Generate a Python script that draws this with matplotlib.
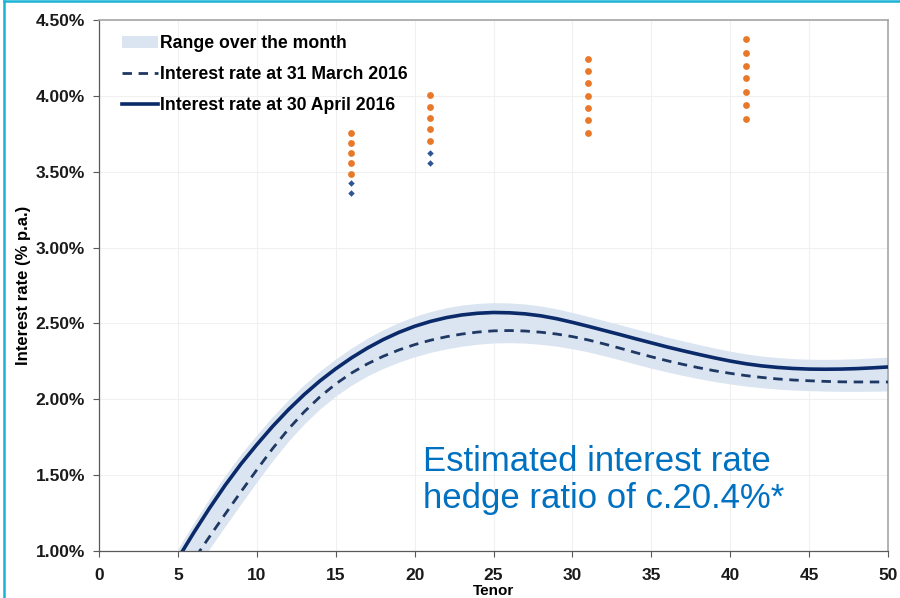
import matplotlib
matplotlib.use("Agg")
import matplotlib.pyplot as plt
from matplotlib.patches import Patch
from matplotlib.lines import Line2D

plt.rcParams['font.family'] = ['Liberation Sans', 'DejaVu Sans']

tenor = list(range(5, 51))
rate_april = [0.95, 1.12, 1.282, 1.434, 1.574, 1.701, 1.821, 1.931, 2.031, 2.121,
              2.201, 2.273, 2.337, 2.393, 2.441, 2.481, 2.513, 2.538, 2.556, 2.567,
              2.572, 2.570, 2.563, 2.55, 2.531, 2.507, 2.481, 2.454, 2.427, 2.399,
              2.372, 2.345, 2.32, 2.296, 2.273, 2.252, 2.234, 2.22, 2.21, 2.203,
              2.199, 2.198, 2.199, 2.202, 2.207, 2.213]
rate_march = [0.787, 0.942, 1.094, 1.244, 1.391, 1.535, 1.675, 1.803, 1.917, 2.016,
              2.101, 2.173, 2.233, 2.283, 2.325, 2.36, 2.389, 2.412, 2.43, 2.443,
              2.451, 2.453, 2.45, 2.442, 2.43, 2.413, 2.391, 2.365, 2.337, 2.308,
              2.28, 2.254, 2.23, 2.208, 2.188, 2.171, 2.156, 2.144, 2.134, 2.127,
              2.122, 2.118, 2.115, 2.114, 2.114, 2.114]
range_high = [1.015, 1.185, 1.347, 1.499, 1.639, 1.766, 1.886, 1.996, 2.096, 2.186,
              2.266, 2.338, 2.402, 2.458, 2.506, 2.546, 2.578, 2.603, 2.621, 2.632,
              2.637, 2.635, 2.628, 2.615, 2.596, 2.572, 2.546, 2.519, 2.492, 2.464,
              2.437, 2.41, 2.385, 2.361, 2.338, 2.317, 2.299, 2.285, 2.275, 2.268,
              2.264, 2.263, 2.264, 2.267, 2.272, 2.278]
range_low = [0.707, 0.862, 1.014, 1.164, 1.311, 1.455, 1.595, 1.723, 1.837, 1.936,
             2.021, 2.093, 2.153, 2.203, 2.245, 2.28, 2.309, 2.332, 2.35, 2.363,
             2.371, 2.373, 2.37, 2.362, 2.35, 2.333, 2.312, 2.287, 2.26, 2.232,
             2.205, 2.18, 2.157, 2.136, 2.117, 2.101, 2.087, 2.076, 2.067, 2.061,
             2.057, 2.054, 2.052, 2.052, 2.053, 2.055]

# dot markers
orange_tenor = [16]*5 + [21]*5 + [31]*7 + [41]*7
orange_rate = [3.753, 3.687, 3.625, 3.555, 3.485,
               4.004, 3.925, 3.856, 3.779, 3.704,
               4.245, 4.166, 4.087, 3.997, 3.918, 3.839, 3.757,
               4.377, 4.284, 4.197, 4.118, 4.027, 3.938, 3.847]
blue_tenor = [16, 16, 21, 21]
blue_rate = [3.425, 3.358, 3.625, 3.555]

x_ticks = list(range(0, 51, 5))
y_ticks = [1.0, 1.5, 2.0, 2.5, 3.0, 3.5, 4.0, 4.5]
y_labels = ['1.00%', '1.50%', '2.00%', '2.50%', '3.00%', '3.50%', '4.00%', '4.50%']

band_color = '#dbe5f1'
navy = '#0b2a6a'
dash_color = '#1f3864'

fig = plt.figure(figsize=(9, 5.98), dpi=100)
ax = fig.add_axes([0.11, 0.0786, 0.8767, 0.888])

ax.fill_between(tenor, range_low, range_high, color=band_color, lw=0, zorder=1)
ax.plot(tenor, rate_march, color=dash_color, lw=2.0, dashes=(3.4, 2.4), zorder=3,
        dash_capstyle='butt')
ax.plot(tenor, rate_april, color=navy, lw=2.6, zorder=4, solid_joinstyle='round')

ax.scatter(orange_tenor, orange_rate, s=24, color='#e8792a', zorder=5, lw=0)
ax.scatter(blue_tenor, blue_rate, s=11, marker='D', color='#2f5597', zorder=5, lw=0)

ax.set_xlim(0, 50)
ax.set_ylim(1.0, 4.5)
ax.set_xticks(x_ticks)
ax.set_yticks(y_ticks)
ax.set_yticklabels(y_labels)
ax.grid(True, color='#f0f0f0', lw=0.8, zorder=0)
ax.set_axisbelow(True)

for lab in ax.get_xticklabels() + ax.get_yticklabels():
    lab.set_fontweight('bold')
    lab.set_fontsize(12.5)
    lab.set_color('#1a1a1a')
ax.tick_params(axis='both', direction='out', length=4, width=0.8, color='#595959')
ax.tick_params(axis='x', pad=8)
ax.tick_params(axis='y', pad=6)

for side in ['left', 'bottom']:
    ax.spines[side].set_color('#595959')
    ax.spines[side].set_linewidth(0.9)
for side in ['top', 'right']:
    ax.spines[side].set_color('#a6a6a6')
    ax.spines[side].set_linewidth(1.2)

ax.set_xlabel('Tenor', fontsize=11, fontweight='bold', labelpad=1)
ax.set_ylabel('Interest rate (% p.a.)', fontsize=12, fontweight='bold', labelpad=3)

handles = [Patch(facecolor=band_color, edgecolor='none'),
           Line2D([], [], color=dash_color, lw=2.0, dashes=(3.4, 2.4)),
           Line2D([], [], color=navy, lw=2.6)]
labels = ['Range over the month', 'Interest rate at 31 March 2016', 'Interest rate at 30 April 2016']
leg = ax.legend(handles, labels, loc='upper left', bbox_to_anchor=(0.014, 0.995),
                frameon=False, prop={'weight': 'bold', 'size': 12.7},
                handlelength=2.0, handletextpad=0.15, labelspacing=0.8,
                borderaxespad=0.3)

ax.text(0.411, 0.134, 'Estimated interest rate\nhedge ratio of c.20.4%*',
        transform=ax.transAxes, fontsize=25, color='#0070c0',
        ha='left', va='center', linespacing=1.15, zorder=6)

# cyan slide border
fig.add_artist(Line2D([0.004, 0.004], [0, 0.998], transform=fig.transFigure,
                      color='#19b3d6', lw=1.8))
fig.add_artist(Line2D([0.004, 1.0], [0.998, 0.998], transform=fig.transFigure,
                      color='#19b3d6', lw=1.8))

fig.savefig('out.png', dpi=100)
